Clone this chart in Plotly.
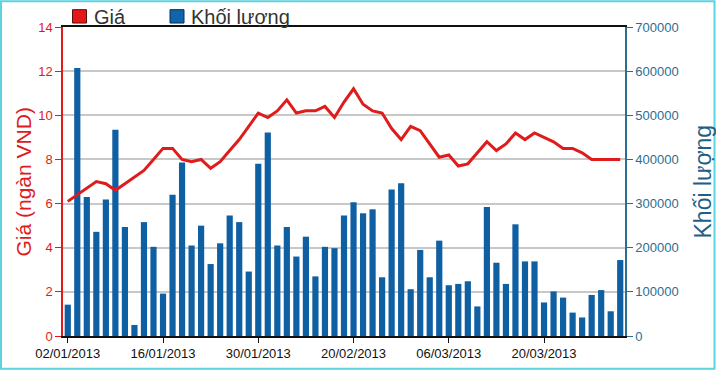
import plotly.graph_objects as go

dates = [
    "02/01/2013", "03/01/2013", "04/01/2013", "07/01/2013", "08/01/2013", "09/01/2013",
    "10/01/2013", "11/01/2013", "14/01/2013", "15/01/2013", "16/01/2013", "17/01/2013",
    "18/01/2013", "21/01/2013", "22/01/2013", "23/01/2013", "24/01/2013", "25/01/2013",
    "28/01/2013", "29/01/2013", "30/01/2013", "31/01/2013", "01/02/2013", "04/02/2013",
    "05/02/2013", "06/02/2013", "07/02/2013", "08/02/2013", "18/02/2013", "19/02/2013",
    "20/02/2013", "21/02/2013", "22/02/2013", "25/02/2013", "26/02/2013", "27/02/2013",
    "28/02/2013", "01/03/2013", "04/03/2013", "05/03/2013", "06/03/2013", "07/03/2013",
    "08/03/2013", "11/03/2013", "12/03/2013", "13/03/2013", "14/03/2013", "15/03/2013",
    "18/03/2013", "19/03/2013", "20/03/2013", "21/03/2013", "22/03/2013", "25/03/2013",
    "26/03/2013", "27/03/2013", "28/03/2013", "29/03/2013", "01/04/2013",
]

price = [
    6.1, 6.4, 6.7, 7.0, 6.9, 6.6, 6.9, 7.2, 7.5, 8.0,
    8.5, 8.5, 8.0, 7.9, 8.0, 7.6, 7.9, 8.4, 8.9, 9.5,
    10.1, 9.9, 10.2, 10.7, 10.1, 10.2, 10.2, 10.4, 9.9, 10.6,
    11.2, 10.5, 10.2, 10.1, 9.4, 8.9, 9.5, 9.3, 8.7, 8.1,
    8.2, 7.7, 7.8, 8.3, 8.8, 8.4, 8.7, 9.2, 8.9, 9.2,
    9.0, 8.8, 8.5, 8.5, 8.3, 8.0, 8.0, 8.0, 8.0,
]

volume = [
    71000, 607000, 315000, 236000, 309000, 467000, 247000, 25000, 258000, 202000,
    96000, 320000, 393000, 205000, 250000, 163000, 210000, 273000, 258000, 146000,
    390000, 461000, 205000, 247000, 180000, 225000, 135000, 202000, 199000, 273000,
    303000, 278000, 287000, 133000, 332000, 346000, 106000, 195000, 133000, 216000,
    115000, 118000, 124000, 67000, 292000, 166000, 118000, 253000, 169000, 169000,
    76000, 101000, 87000, 53000, 42000, 93000, 104000, 56000, 172000,
]

tick_labels = ["02/01/2013", "16/01/2013", "30/01/2013", "20/02/2013", "06/03/2013", "20/03/2013"]

series_names = ["Giá", "Khối lượng"]
left_title = "Giá (ngàn VND)"
right_title = "Khối lượng"

RED = "#e01b1b"
BLUE = "#0f5fa3"
TEAL = "#2b6e8f"
FONT = "Liberation Sans, Arial, sans-serif"

W, H = 716, 373
ML, MR, MT, MB = 63, 91, 27, 34
PW, PH = W - ML - MR, H - MT - MB


def px(x):
    return (x - ML) / PW


def py(y):
    return 1 + (MT - y) / PH


fig = go.Figure()
fig.add_trace(go.Bar(x=dates, y=volume, marker=dict(color=BLUE, line=dict(width=0)),
                     name=series_names[1], yaxis="y", showlegend=False, hoverinfo="x+y"))
fig.add_trace(go.Scatter(x=dates, y=price, mode="lines", line=dict(color=RED, width=3),
                         name=series_names[0], yaxis="y2", showlegend=False))

shapes = [
    # outer page border
    dict(type="rect", xref="paper", yref="paper", x0=px(1), x1=px(714.5), y0=py(372), y1=py(1),
         line=dict(color="#5cd3df", width=2), fillcolor="rgba(0,0,0,0)", layer="above"),
    # legend squares
    dict(type="rect", xref="paper", yref="paper", x0=px(72.5), x1=px(86.5), y0=py(23), y1=py(9.5),
         line=dict(color="#5a1010", width=1), fillcolor="#e51818"),
    dict(type="rect", xref="paper", yref="paper", x0=px(170), x1=px(184), y0=py(23), y1=py(9.5),
         line=dict(color="#0a2f55", width=1), fillcolor="#1064ab"),
]

annotations = [
    dict(text=series_names[0], xref="paper", yref="paper", x=px(92), y=py(16.5), xanchor="left",
         yanchor="middle", showarrow=False, font=dict(family=FONT, size=20, color="#333333")),
    dict(text=series_names[1], xref="paper", yref="paper", x=px(189), y=py(16.5), xanchor="left",
         yanchor="middle", showarrow=False, font=dict(family=FONT, size=20, color="#333333")),
    dict(text=left_title, xref="paper", yref="paper", x=px(23), y=0.5, textangle=-90,
         xanchor="center", yanchor="middle", showarrow=False,
         font=dict(family=FONT, size=21, color=RED)),
    dict(text=right_title, xref="paper", yref="paper", x=px(702), y=0.5, textangle=-90,
         xanchor="center", yanchor="middle", showarrow=False,
         font=dict(family=FONT, size=23, color="#1d5f86")),
]

fig.update_layout(
    width=W, height=H,
    margin=dict(l=ML, r=MR, t=MT, b=MB, pad=0),
    paper_bgcolor="white", plot_bgcolor="white",
    bargap=0.35,
    showlegend=False,
    font=dict(family=FONT, size=13),
    shapes=shapes,
    annotations=annotations,
    xaxis=dict(
        type="category", tickmode="array", tickvals=tick_labels, ticktext=tick_labels,
        showline=True, linecolor="#111111", linewidth=1.5, mirror=True,
        ticks="outside", ticklen=5, tickcolor="#111111", tickwidth=1,
        showgrid=False, zeroline=False,
        tickfont=dict(family=FONT, size=13, color="#111111"),
    ),
    yaxis=dict(
        side="right", range=[0, 700000], dtick=100000, tick0=0, tickformat="d",
        showgrid=True, gridcolor="#c8c8c8", gridwidth=1.5,
        showline=True, linecolor=TEAL, linewidth=1.5,
        ticks="outside", ticklen=6, tickcolor=TEAL,
        zeroline=False,
        tickfont=dict(family=FONT, size=13, color=TEAL),
    ),
    yaxis2=dict(
        overlaying="y", side="left", range=[0, 14], dtick=2, tick0=0,
        showgrid=False, showline=True, linecolor=RED, linewidth=1.5,
        ticks="outside", ticklen=6, tickcolor=RED,
        zeroline=False,
        tickfont=dict(family=FONT, size=13, color=RED),
    ),
)

fig.write_html("out.html", config={"displayModeBar": False},
               post_script="document.body.style.margin='0';document.body.style.padding='0';")
